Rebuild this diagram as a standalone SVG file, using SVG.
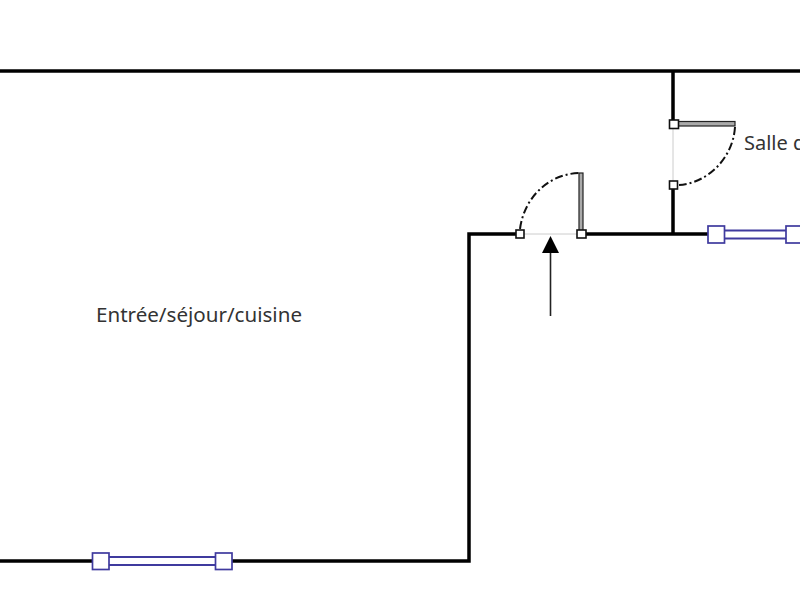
<svg xmlns="http://www.w3.org/2000/svg" width="800" height="600" viewBox="0 0 800 600">
<style>
.wall{fill:none;stroke:#000;stroke-width:3.500}
.gap{fill:none;stroke:#ccc;stroke-width:1}
.leaf{fill:#aaa;stroke:#222;stroke-width:1.200}
.swing{fill:none;stroke:#111;stroke-width:2;stroke-dasharray:8 3 2 3}
.hinge{fill:#fff;stroke:#111;stroke-width:1.600}
.frame{fill:#fff;stroke:#3f3a9e;stroke-width:1.700}
.pane{fill:#fff;stroke:#3f3a9e;stroke-width:2}
.label{font-family:"Noto Sans","Open Sans",sans-serif;font-size:20px;fill:#333}
</style>
<rect width="800" height="600" fill="#fff"/>
<g id="connectors">
<path class="wall" d="M0 71H800"/>
<path class="wall" d="M0 561H469V234H520"/>
<path class="wall" d="M581 234H716"/>
<path class="wall" d="M673 71V124M673 185V234"/>
</g>
<g id="door-entry">
<path class="gap" d="M520 234H581"/>
<rect class="leaf" x="579" y="173" width="4" height="61"/>
<path class="swing" d="M520 229C524 198 548 174 579 173"/>
<rect class="hinge" x="516" y="230" width="8" height="8"/>
<rect class="hinge" x="577" y="230" width="9" height="8"/>
</g>
<g id="door-bath">
<path class="gap" d="M673 124V185"/>
<rect class="leaf" x="673" y="121.500" width="62" height="4.500"/>
<path class="swing" d="M735 127C733 158 708 183 679 185"/>
<rect class="hinge" x="669.500" y="120" width="9" height="8.500"/>
<rect class="hinge" x="669.500" y="181" width="8" height="8"/>
</g>
<g id="arrow">
<path d="M550.500 316V250" fill="none" stroke="#222" stroke-width="1.600"/>
<path d="M550.500 236L559 253H542Z" fill="#000"/>
</g>
<g id="window-south">
<rect class="pane" x="108" y="557" width="108" height="8"/>
<rect class="frame" x="92.500" y="553" width="16.500" height="16.500"/>
<rect class="frame" x="215.500" y="553" width="16.500" height="16.500"/>
</g>
<g id="window-east">
<rect class="pane" x="724" y="230.500" width="70" height="8"/>
<rect class="frame" x="708" y="226" width="16.500" height="17"/>
<rect class="frame" x="786" y="226" width="16.500" height="17"/>
</g>
<g id="label-main"><text class="label" x="96" y="322" textLength="206" lengthAdjust="spacingAndGlyphs">Entrée/séjour/cuisine</text></g>
<g id="label-bath"><text class="label" x="744" y="150">Salle d</text></g>
</svg>
